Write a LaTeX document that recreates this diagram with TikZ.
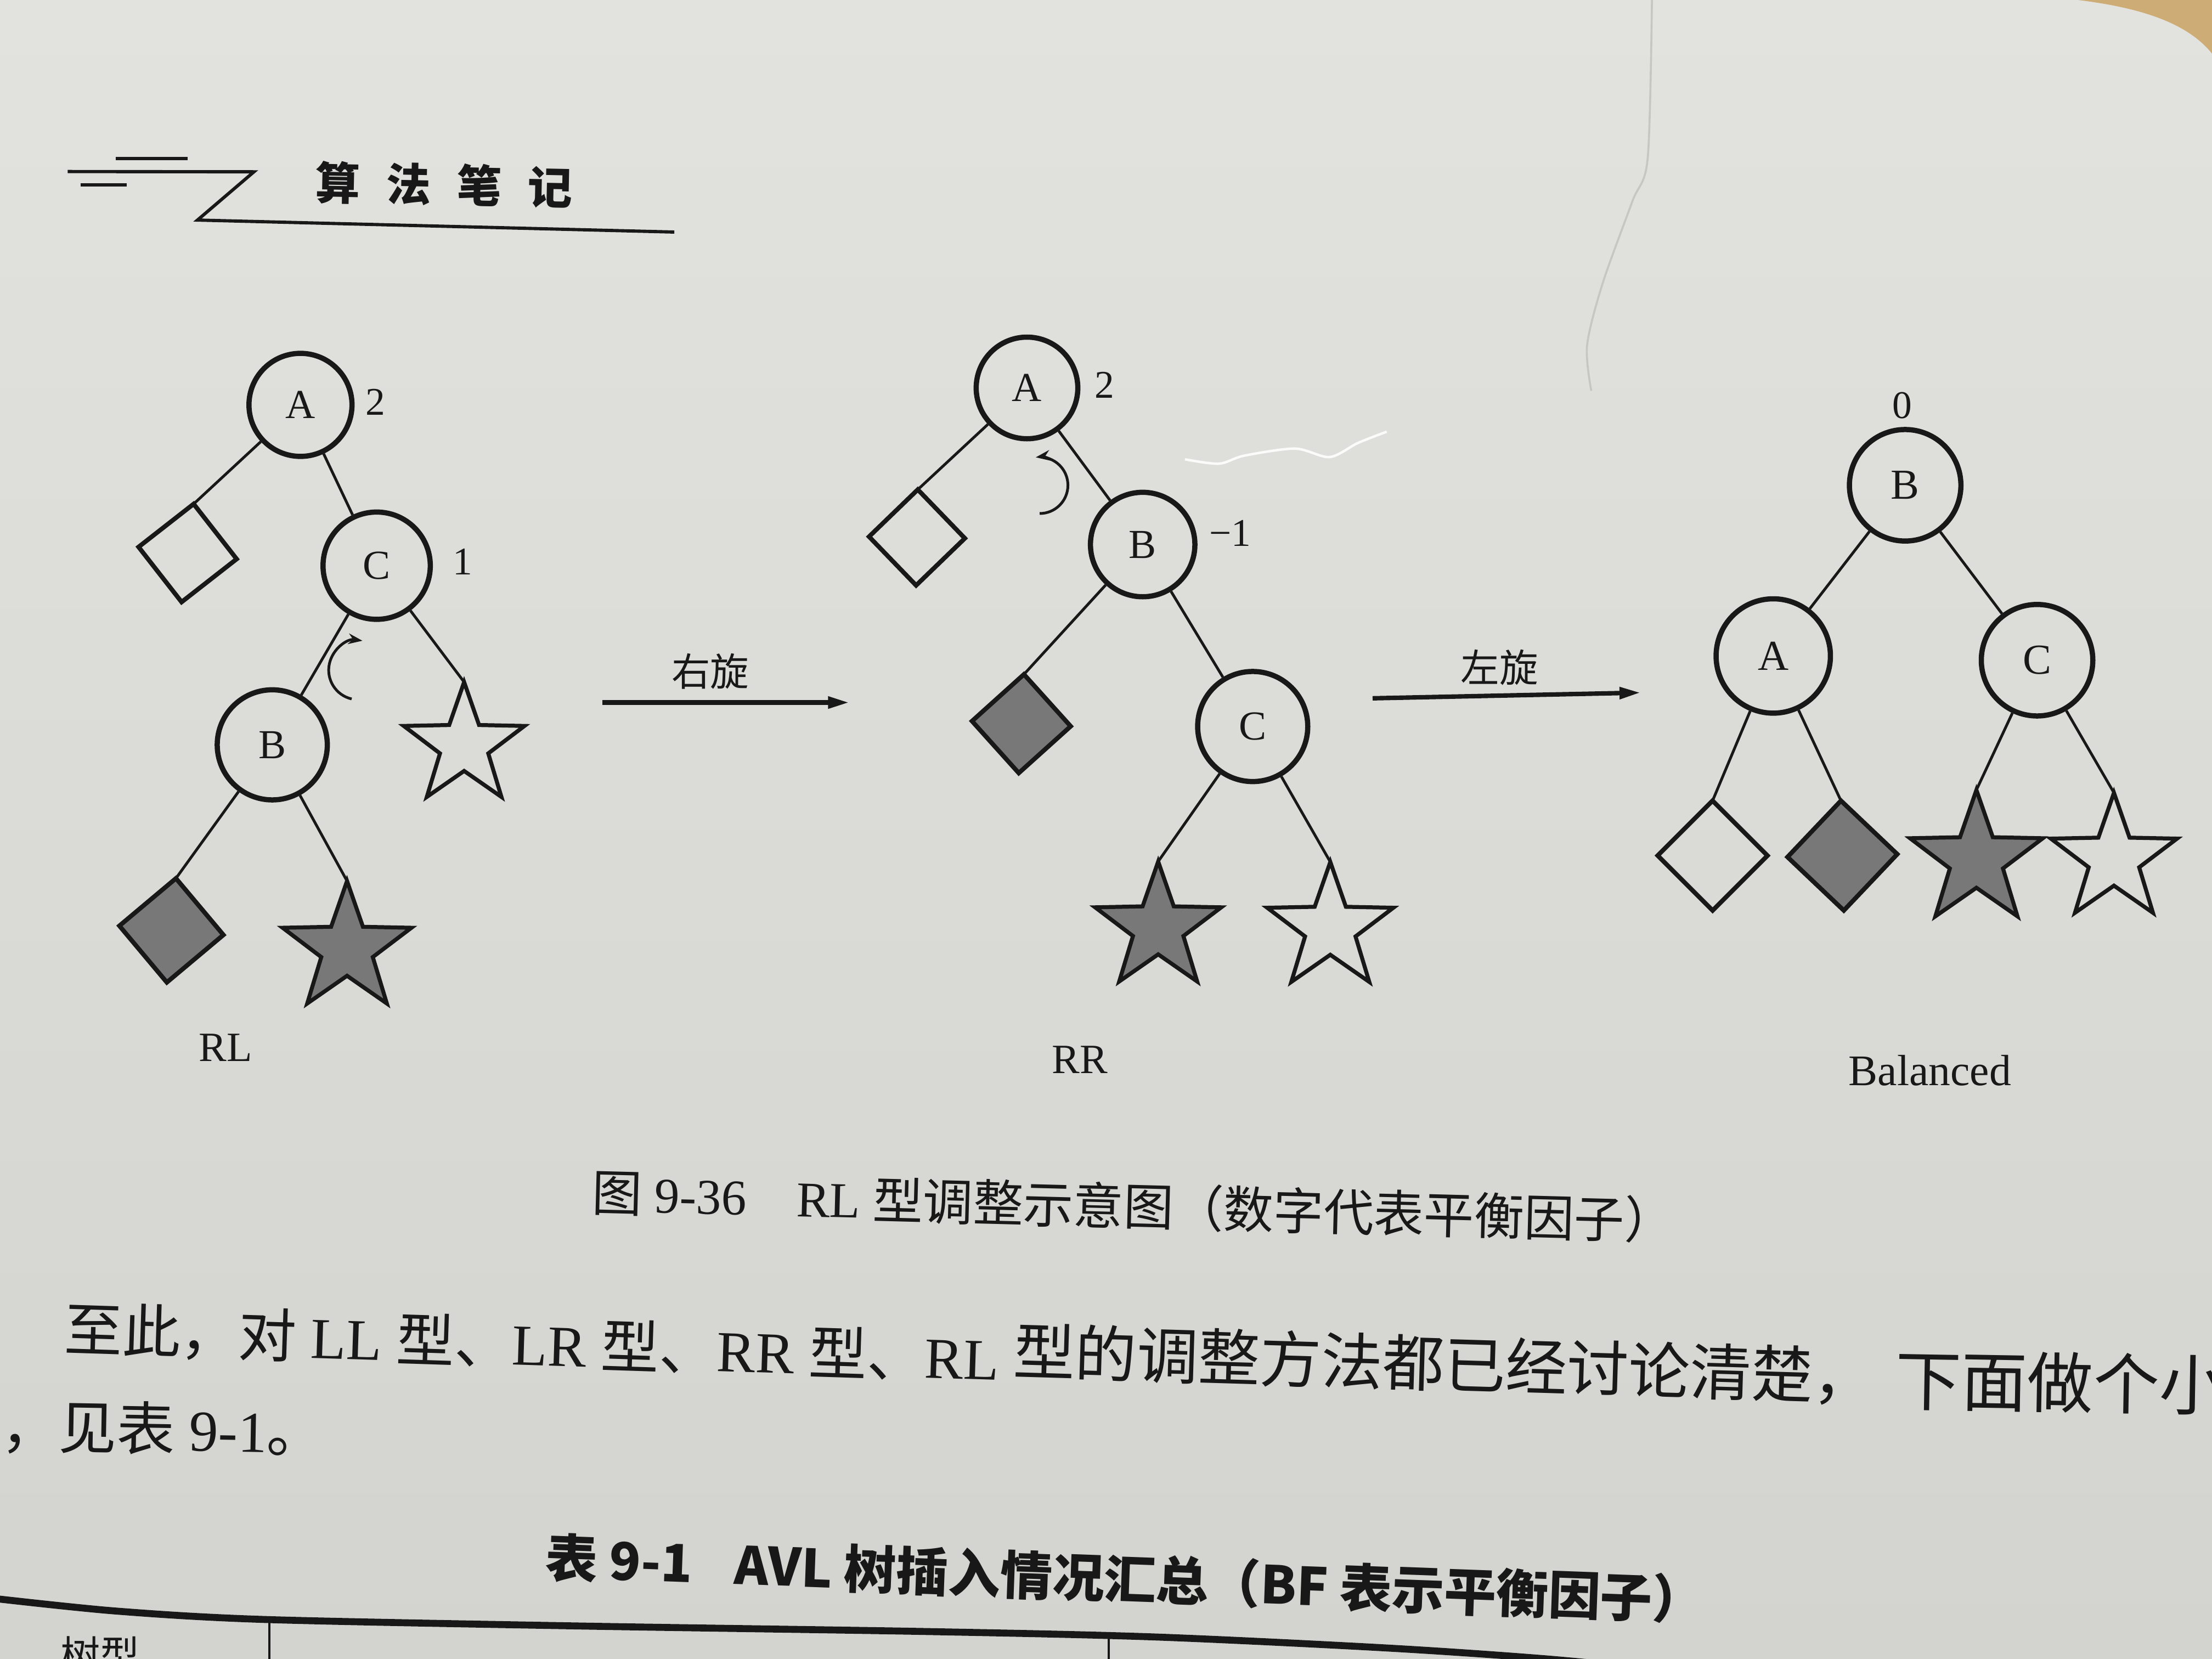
\documentclass[tikz,border=0pt]{standalone}
\usepackage{fontspec}
\setmainfont{Liberation Serif}
\newfontfamily\cjk{Noto Sans CJK SC}
\usetikzlibrary{arrows.meta}
\definecolor{paperT}{RGB}{226,226,223}
\definecolor{paperB}{RGB}{211,211,208}
\definecolor{ink}{RGB}{24,24,24}
\definecolor{shadegrey}{RGB}{120,120,120}
\definecolor{wood}{RGB}{206,172,118}
\definecolor{creasecol}{RGB}{198,198,195}
\newcommand{\mystar}[5]{%
  \begin{scope}[shift={(#2,#3)}]
    \pgfmathsetmacro{\mystarrin}{0.4*#4}
    \draw[starline, fill=#5] (-90:#4) -- (-54:\mystarrin) -- (-18:#4) -- (18:\mystarrin) -- (54:#4) -- (90:\mystarrin) -- (126:#4) -- (162:\mystarrin) -- (198:#4) -- (234:\mystarrin) -- cycle;
    \coordinate (#1) at (-90:#4);
  \end{scope}}
\tikzset{
  tnode/.style={circle, draw=ink, line width=1.05pt, minimum size=#1, inner sep=0pt, text=ink, font=\fontsize{8.3}{9}\selectfont},
  dia/.style={draw=ink, line width=0.9pt, minimum size=#1, inner sep=0pt, outer sep=0pt},
  link/.style={draw=ink, line width=0.55pt},
  starline/.style={draw=ink, line width=0.8pt, line join=miter},
  bfnum/.style={text=ink, inner sep=0pt, font=\fontsize{7.9}{9}\selectfont},
  lbl/.style={text=ink, inner sep=0pt, font=\fontsize{8.4}{9}\selectfont},
  rotarrow/.style={draw=ink, line width=0.55pt, -{Stealth[length=0.1cm, width=0.075cm]}},
  bigarrow/.style={draw=ink, line width=0.9pt, -{Triangle[length=0.15cm, width=0.08cm]}},
  hline/.style={draw=ink, line width=0.65pt},
  cn/.style={text=ink, inner sep=0pt},
}
\begin{document}
\begin{tikzpicture}[x=0.01cm, y=-0.01cm]
\useasboundingbox (0,0) rectangle (1568,1176);
\clip (0,0) rectangle (1568,1176);
\shade[top color=paperT, bottom color=paperB] (0,0) rectangle (1568,1176);
\fill[wood] (1473,0) .. controls (1522,6) and (1552,18) .. (1568,38) -- (1568,0) -- cycle;
\draw[creasecol, line width=0.4pt] plot[smooth] coordinates {(1171,0) (1168,112) (1157,143) (1136,201) (1125,245) (1128,277)};
\draw[white!85!paperT, line width=0.5pt] plot[smooth] coordinates {(840,325.6) (864,328.7) (882,323) (918,318) (942.5,324) (962.6,314) (983,306)};

% header
\draw[hline] (82,112.4) -- (133,112.4);
\draw[hline] (48,121.6) -- (180,121.8) -- (140,156) -- (478,164.5);
\draw[hline] (57,131) -- (90,131);
\node[cn, anchor=west, rotate=-1.2, font=\cjk\bfseries\fontsize{9}{10}\selectfont] (head) at (223,129) {算\hspace{0.185cm}法\hspace{0.185cm}笔\hspace{0.185cm}记};

% left tree (RL)
\node[tnode=0.73cm] (LA) at (213,287) {A};
\node[bfnum] (LAf) at (266,285) {2};
\node[dia=0.495cm, rotate=38] (Ld1) at (133,392) {};
\node[tnode=0.76cm] (LC) at (267,401) {C};
\node[bfnum] (LCf) at (328,398) {1};
\node[tnode=0.78cm] (LB) at (193,528) {B};
\node[dia=0.523cm, rotate=40, fill=shadegrey] (Ld2) at (121.5,659.5) {};
\mystar{Ls1}{329}{528.5}{45}{none}
\mystar{Ls2}{246}{672.5}{48}{shadegrey}
\node[lbl] (RLl) at (160,742.5) {RL};
\draw[link] (LA) -- (Ld1.north east);
\draw[link] (LA) -- (LC);
\draw[link] (LC) -- (LB);
\draw[link] (LC) -- (Ls1);
\draw[link] (LB) -- (Ld2.north east);
\draw[link] (LB) -- (Ls2);
\draw[rotarrow] (254,475) ++(-257:21) arc[start angle=-257, end angle=-82, radius=21];

% arrow 1
\coordinate (a1s) at (427,498);
\coordinate (a1e) at (602,498);
\draw[bigarrow] (a1s) -- (a1e);
\node[cn, font=\cjk\fontsize{7.8}{9}\selectfont] (r1) at (503.5,476) {右旋};

% middle tree (RR)
\node[tnode=0.72cm] (MA) at (728,275) {A};
\node[bfnum] (MAf) at (783,273) {2};
\node[dia=0.48cm, rotate=44] (Md1) at (650,381) {};
\node[tnode=0.74cm] (MB) at (810,386) {B};
\node[bfnum] (MBf) at (872,378) {−1};
\node[dia=0.495cm, rotate=42, fill=shadegrey] (Md2) at (724,513) {};
\node[tnode=0.78cm] (MC) at (888,515) {C};
\mystar{Ms1}{821}{657.7}{47}{shadegrey}
\mystar{Ms2}{943}{658}{47}{none}
\node[lbl] (RRl) at (765.5,751) {RR};
\draw[link] (MA) -- (Md1.north east);
\draw[link] (MA) -- (MB);
\draw[link] (MB) -- (Md2.north east);
\draw[link] (MB) -- (MC);
\draw[link] (MC) -- (Ms1);
\draw[link] (MC) -- (Ms2);
\draw[rotarrow] (737,344) ++(90:20) arc[start angle=90, end angle=-98, radius=20];

% arrow 2
\coordinate (a2s) at (973,495);
\coordinate (a2e) at (1163,491);
\draw[bigarrow] (a2s) -- (a2e);
\node[cn, font=\cjk\fontsize{7.8}{9}\selectfont] (r2) at (1063,473) {左旋};

% right tree (Balanced)
\node[bfnum] (RBf) at (1348.5,287.5) {0};
\node[tnode=0.79cm, font=\fontsize{8.6}{9}\selectfont] (RB) at (1350.5,344) {B};
\node[tnode=0.81cm, font=\fontsize{8.6}{9}\selectfont] (RA) at (1257,465) {A};
\node[tnode=0.79cm, font=\fontsize{8.6}{9}\selectfont] (RC) at (1444,468) {C};
\node[dia=0.55cm, rotate=45] (Rd1) at (1214,606.5) {};
\node[dia=0.55cm, rotate=46.5, fill=shadegrey] (Rd2) at (1306,606.5) {};
\mystar{Rs1}{1401}{609.5}{49.5}{shadegrey}
\mystar{Rs2}{1498.5}{609}{47}{none}
\node[lbl, font=\fontsize{8.8}{10}\selectfont] (Bal) at (1368,759) {Balanced};
\draw[link] (RB) -- (RA);
\draw[link] (RB) -- (RC);
\draw[link] (RA) -- (Rd1.north east);
\draw[link] (RA) -- (Rd2.north east);
\draw[link] (RC) -- (Rs1);
\draw[link] (RC) -- (Rs2);

% caption and text
\node[cn, anchor=west, rotate=-1.5, font=\fontsize{10.1}{12}\selectfont] (cap) at (419,845) {{\cjk 图} 9-36\hspace{1em}RL {\cjk 型调整示意图（数字代表平衡因子）}};
\node[cn, anchor=west, rotate=-1.85, font=\fontsize{11.7}{14}\selectfont] (p1a) at (45,942) {{\cjk 至此，对} LL {\cjk 型、}LR {\cjk 型、}RR {\cjk 型、}RL};
\node[cn, anchor=west, rotate=-1.7, font=\cjk\fontsize{12.4}{14}\selectfont] (p1b) at (718,958) {型的调整方法都已经讨论清楚，};
\node[cn, anchor=west, rotate=-1, font=\cjk\fontsize{13.3}{15}\selectfont] (p1c) at (1343,978) {下面做个小};
\node[cn, anchor=west, rotate=-1, font=\fontsize{11.7}{14}\selectfont] (p2) at (0,1011) {{\cjk ，见表} 9-1{\cjk 。}};
\node[cn, anchor=west, rotate=-2.1, font=\cjk\bfseries\fontsize{10.5}{12}\selectfont] (tt) at (386,1104) {表 9-1\hspace{0.8em}AVL 树插入情况汇总（BF 表示平衡因子）};

% table top
\draw[ink, line width=1.4pt] plot[smooth] coordinates {(-5,1133) (82,1142) (188,1148) (410,1152.6) (655,1156.5) (819,1160.4) (983,1168.2) (1097,1176) (1200,1186)};
\draw[ink, line width=0.4pt] (191,1148) -- (191,1185);
\draw[ink, line width=0.4pt] (786,1159.5) -- (786,1185);
\node[cn, font=\cjk\fontsize{8}{10}\selectfont] (tx) at (71,1173) {树型};
\end{tikzpicture}
\end{document}
